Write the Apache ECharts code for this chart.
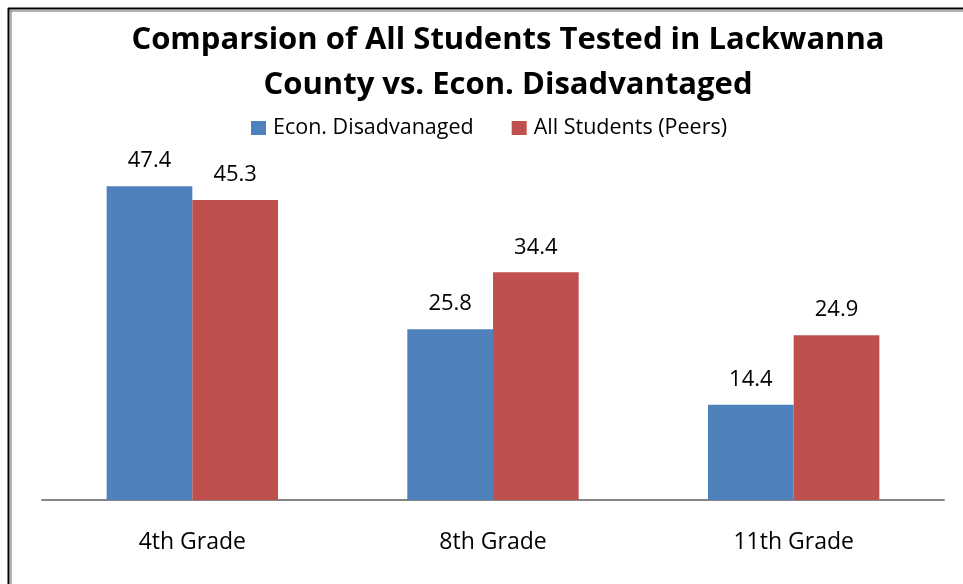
<!DOCTYPE html>
<html>
<head>
<meta charset="utf-8">
<script src="https://cdn.jsdelivr.net/npm/echarts@6/dist/echarts.min.js"></script>
<style>
  html, body { margin: 0; padding: 0; background: #fff; }
  #chart { width: 963px; height: 584px; }
</style>
</head>
<body>
<div id="chart"></div>
<script>
  var categories = ['4th Grade', '8th Grade', '11th Grade']
  var econDisadvantaged = [47.4, 25.8, 14.4]
  var allStudents = [45.3, 34.4, 24.9]
  var seriesNames = ['Econ. Disadvanaged', 'All Students (Peers)']

  var font = '"Open Sans", "Noto Sans", sans-serif'

  var chart = echarts.init(document.getElementById('chart'))

  chart.setOption({
    animation: false,
    textStyle: { fontFamily: font },
    grid: { left: 42, right: 19, top: 169, bottom: 84 },
    legend: {
      left: 246,
      top: 112,
      itemWidth: 15,
      itemHeight: 14,
      itemGap: 38,
      icon: 'rect',
      textStyle: { fontSize: 21.5, color: '#000', fontFamily: font, padding: [0, 0, 0, 2] },
      data: seriesNames
    },
    xAxis: {
      type: 'category',
      data: categories,
      axisLine: { lineStyle: { color: '#868686', width: 2 } },
      axisTick: { show: false },
      axisLabel: { fontSize: 23, color: '#000', margin: 31, fontFamily: font }
    },
    yAxis: {
      type: 'value',
      min: 0,
      max: 50,
      show: false,
      splitLine: { show: false }
    },
    series: [
      {
        name: seriesNames[0],
        type: 'bar',
        data: econDisadvantaged,
        barGap: 0,
        barCategoryGap: '43%',
        itemStyle: { color: '#4F81BD' },
        label: { show: true, position: 'top', distance: 14, fontSize: 22, color: '#000', fontFamily: font }
      },
      {
        name: seriesNames[1],
        type: 'bar',
        data: allStudents,
        barGap: 0,
        barCategoryGap: '43%',
        itemStyle: { color: '#C0504D' },
        label: { show: true, position: 'top', distance: 14, fontSize: 22, color: '#000', fontFamily: font }
      }
    ],
    graphic: [
      { type: 'line', shape: { x1: 8.5, y1: 8, x2: 8.5, y2: 584 }, style: { stroke: '#000', lineWidth: 2 } },
      { type: 'line', shape: { x1: 8, y1: 8.5, x2: 963, y2: 8.5 }, style: { stroke: '#000', lineWidth: 2 } },
      { type: 'line', shape: { x1: 11, y1: 10, x2: 11, y2: 584 }, style: { stroke: '#999', lineWidth: 1.5 } },
      { type: 'line', shape: { x1: 10, y1: 11, x2: 963, y2: 11 }, style: { stroke: '#999', lineWidth: 1.5 } },
      {
        type: 'text',
        style: {
          x: 508, y: 18,
          text: 'Comparsion of All Students Tested in Lackwanna\nCounty vs. Econ. Disadvantaged',
          textAlign: 'center',
          fontSize: 31,
          fontWeight: 'bold',
          lineHeight: 45,
          fontFamily: font,
          fill: '#000'
        }
      }
    ]
  })
</script>
</body>
</html>
